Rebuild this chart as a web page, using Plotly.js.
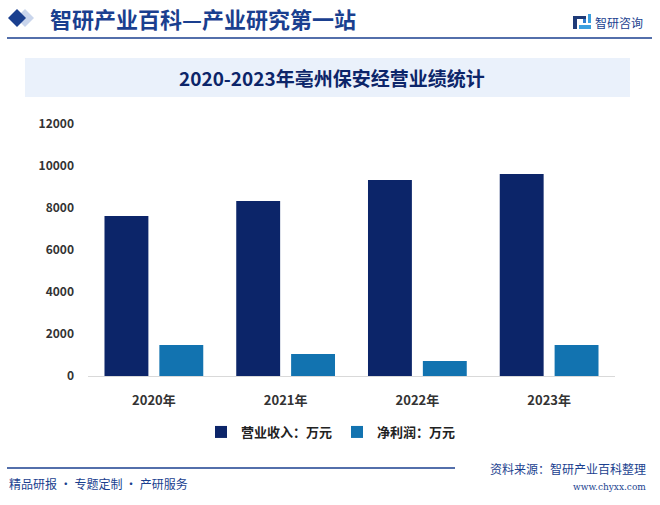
<!DOCTYPE html>
<html>
<head>
<meta charset="utf-8">
<script src="https://cdn.plot.ly/plotly-3.0.1.min.js"></script>
<style>
  body { margin: 0; background: #fff; }
  #chart { width: 660px; height: 505px; }
</style>
</head>
<body>
<div id="chart"></div>
<script>
// 亳州保安经营业绩（万元）
const years = ['2020年', '2021年', '2022年', '2023年'];
const revenue = [7620, 8330, 9330, 9620];
const netProfit = [1480, 1050, 710, 1480];
const seriesNames = ['营业收入：万元', '净利润：万元'];

const cjk = "'Noto Sans CJK SC', 'Noto Sans', sans-serif";
const navy = '#0c2569';
const brand = '#1a3f8f';

const traces = [
  {
    x: years, y: revenue, name: seriesNames[0], type: 'bar',
    marker: { color: '#0c2569' }
  },
  {
    x: years, y: netProfit, name: seriesNames[1], type: 'bar',
    marker: { color: '#1273b0' }
  }
];

// paper coords helper for the decorations (plot area: x 88..615, y 124..376 px)
const px = v => (v - 88) / 527;
const py = v => (376 - v) / 252;

const layout = {
  width: 660, height: 505,
  margin: { l: 88, r: 45, t: 124, b: 129 },
  paper_bgcolor: '#fff', plot_bgcolor: 'rgba(0,0,0,0)',
  font: { family: cjk, color: '#333' },
  barmode: 'group', bargap: 0.167, bargroupgap: 0.2,
  xaxis: {
    showline: true, linecolor: '#d9d9d9', linewidth: 1,
    tickfont: { size: 13, color: '#333', family: cjk, weight: 'bold' },
    ticks: '', ticklabelstandoff: 12, fixedrange: true
  },
  yaxis: {
    range: [0, 12000], dtick: 2000, tickformat: 'd', showgrid: false, zeroline: false,
    tickfont: { size: 12, color: '#333', family: cjk, weight: 'bold' },
    ticklabelstandoff: 13, fixedrange: true
  },
  showlegend: true,
  legend: {
    orientation: 'h', x: px(331), xanchor: 'center', y: py(432), yanchor: 'middle',
    font: { size: 13, color: '#222', family: cjk, weight: 'bold' },
    itemwidth: 30, traceorder: 'normal'
  },
  shapes: [
    // header diamonds
    { type: 'path', xref: 'paper', yref: 'paper', fillcolor: '#c9d5ec', line: { width: 0 },
      path: `M${px(16)},${py(18)} L${px(25)},${py(9)} L${px(34)},${py(18)} L${px(25)},${py(27)} Z` },
    { type: 'path', xref: 'paper', yref: 'paper', fillcolor: brand, line: { width: 0 },
      path: `M${px(8)},${py(18)} L${px(17)},${py(9)} L${px(26)},${py(18)} L${px(17)},${py(27)} Z` },
    // header rule
    { type: 'line', xref: 'paper', yref: 'paper', x0: px(7), x1: px(652), y0: py(38), y1: py(38),
      line: { color: brand, width: 1.5 } },
    // logo icon
    { type: 'rect', xref: 'paper', yref: 'paper', x0: px(573), x1: px(577), y0: py(16), y1: py(29),
      fillcolor: '#1f3b78', line: { width: 0 } },
    { type: 'rect', xref: 'paper', yref: 'paper', x0: px(577), x1: px(586), y0: py(16), y1: py(19),
      fillcolor: '#1f3b78', line: { width: 0 } },
    { type: 'rect', xref: 'paper', yref: 'paper', x0: px(583), x1: px(586), y0: py(19), y1: py(23),
      fillcolor: '#2f7fd0', line: { width: 0 } },
    { type: 'rect', xref: 'paper', yref: 'paper', x0: px(579), x1: px(591), y0: py(25), y1: py(29),
      fillcolor: '#3aa0e0', line: { width: 0 } },
    { type: 'rect', xref: 'paper', yref: 'paper', x0: px(588), x1: px(591), y0: py(14), y1: py(23),
      fillcolor: '#3aa0e0', line: { width: 0 } },
    // title banner
    { type: 'rect', xref: 'paper', yref: 'paper', x0: px(25), x1: px(630), y0: py(97), y1: py(58),
      fillcolor: '#eaf1fb', line: { width: 0 }, layer: 'below' },
    // footer rule
    { type: 'line', xref: 'paper', yref: 'paper', x0: px(7), x1: px(455), y0: py(468), y1: py(468),
      line: { color: brand, width: 1.5 } }
  ],
  annotations: [
    { text: '智研产业百科—产业研究第一站', xref: 'paper', yref: 'paper', x: px(48), y: py(18),
      xanchor: 'left', yanchor: 'middle', showarrow: false,
      font: { size: 22, color: brand, family: cjk, weight: 'bold' } },
    { text: '智研咨询', xref: 'paper', yref: 'paper', x: px(593), y: py(22),
      xanchor: 'left', yanchor: 'middle', showarrow: false,
      font: { size: 12, color: brand, family: cjk } },
    { text: '2020-2023年亳州保安经营业绩统计', xref: 'paper', yref: 'paper', x: px(332), y: py(77),
      xanchor: 'center', yanchor: 'middle', showarrow: false,
      font: { size: 19, color: navy, family: cjk, weight: 'bold' } },
    { text: '精品研报 · 专题定制 · 产研服务', xref: 'paper', yref: 'paper', x: px(7), y: py(483),
      xanchor: 'left', yanchor: 'middle', showarrow: false,
      font: { size: 12, color: brand, family: cjk } },
    { text: '资料来源：智研产业百科整理', xref: 'paper', yref: 'paper', x: px(648), y: py(468),
      xanchor: 'right', yanchor: 'middle', showarrow: false,
      font: { size: 12, color: brand, family: cjk } },
    { text: 'www.chyxx.com', xref: 'paper', yref: 'paper', x: px(648), y: py(487),
      xanchor: 'right', yanchor: 'middle', showarrow: false,
      font: { size: 9, color: brand, family: "'DejaVu Serif', serif" } }
  ]
};

Plotly.newPlot('chart', traces, layout, { displayModeBar: false, staticPlot: true });
</script>
</body>
</html>
